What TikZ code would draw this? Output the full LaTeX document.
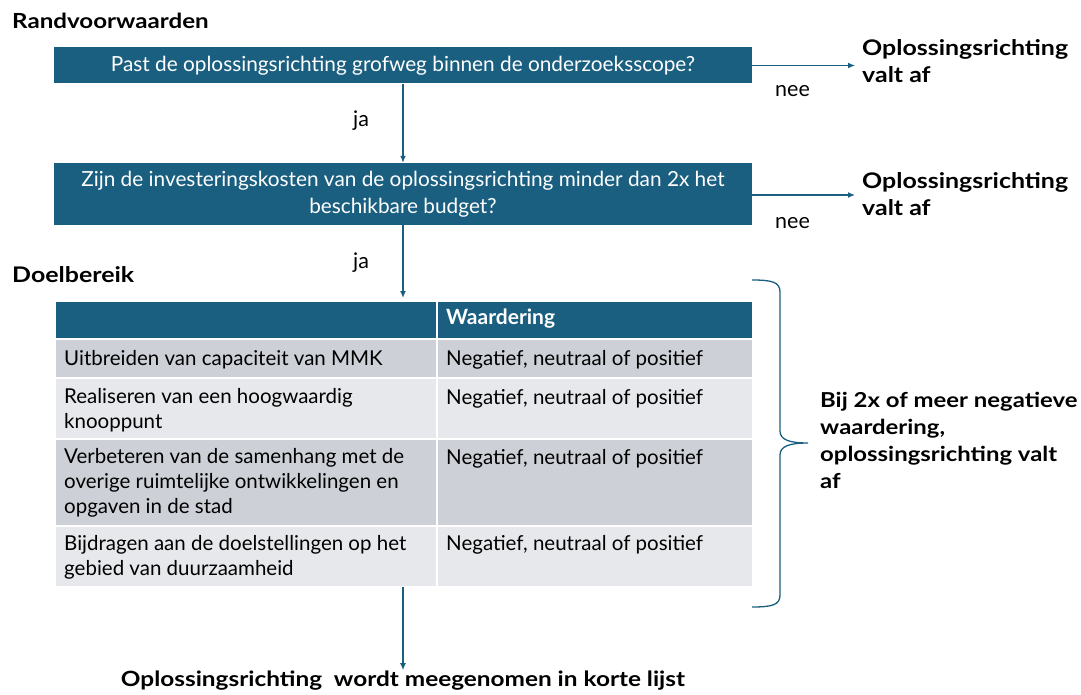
\documentclass[tikz,border=0pt]{standalone}
\usepackage{fontspec}
\setmainfont{Lato}
\newfontfamily\widebf{Lato Bold}[FakeStretch=1.16]
\newfontfamily\plainbf{Lato Bold}
\usetikzlibrary{arrows.meta}
\definecolor{dblue}{HTML}{1A5F80}
\definecolor{rowdark}{HTML}{CDD1D7}
\definecolor{rowlight}{HTML}{E6E8EB}
\begin{document}
\begin{tikzpicture}[x=1pt,y=-1pt,
  qbox/.style={fill=dblue, text=white, minimum width=698pt, inner sep=0pt,
    font=\fontsize{20.8}{27}\selectfont, align=center},
  flow/.style={draw=dblue, line width=1.3pt, -{Latex[length=7pt,width=6pt]}},
  head/.style={font=\widebf\fontsize{21.5}{27}\selectfont, anchor=base west, inner sep=0pt, align=left},
  small/.style={font=\fontsize{21.5}{25}\selectfont, anchor=base west, inner sep=0pt, align=left},
  cell/.style={draw=white, line width=1.5pt, anchor=north west, inner sep=0pt},
  celltext/.style={font=\fontsize{20.5}{25}\selectfont, anchor=base west, inner sep=0pt, align=left},
]
\useasboundingbox (0,0) rectangle (1081,695);

% headings
\node[head, font=\widebf\fontsize{20.8}{27}\selectfont] (rv) at (12,29) {Randvoorwaarden};
\node[head] (db) at (12,282) {Doelbereik};

% question boxes
\node[qbox, minimum height=36pt] (q1) at (403,65.5) {Past de oplossingsrichting grofweg binnen de onderzoeksscope?};
\node[qbox, minimum height=62pt] (q2) at (403,194) {Zijn de investeringskosten van de oplossingsrichting minder dan 2x het\\beschikbare budget?};

% outcomes (base anchor = last line)
\node[head] (o1) at (862,83) {Oplossingsrichting\\valt af};
\node[head] (o2) at (862,215) {Oplossingsrichting\\valt af};

\coordinate (o1in) at (855,65.5);
\coordinate (o2in) at (855,195);
\draw[flow] (q1.east) -- (o1in);
\draw[flow] (q2.east |- o2in) -- (o2in);
\node[small] (n1) at (775,97) {nee};
\node[small] (n2) at (775,229) {nee};

% table cells
\node[cell, fill=dblue, minimum width=382pt, minimum height=38pt] (h1) at (54,300) {};
\node[cell, fill=dblue, minimum width=316pt, minimum height=38pt] (h2) at (436,300) {};
\node[cell, fill=rowdark, minimum width=382pt, minimum height=39pt] (a1) at (54,338) {};
\node[cell, fill=rowdark, minimum width=316pt, minimum height=39pt] (b1) at (436,338) {};
\node[cell, fill=rowlight, minimum width=382pt, minimum height=61pt] (a2) at (54,377) {};
\node[cell, fill=rowlight, minimum width=316pt, minimum height=61pt] (b2) at (436,377) {};
\node[cell, fill=rowdark, minimum width=382pt, minimum height=87pt] (a3) at (54,438) {};
\node[cell, fill=rowdark, minimum width=316pt, minimum height=87pt] (b3) at (436,438) {};
\node[cell, fill=rowlight, minimum width=382pt, minimum height=61pt] (a4) at (54,525) {};
\node[cell, fill=rowlight, minimum width=316pt, minimum height=61pt] (b4) at (436,525) {};

\node[celltext, text=white, font=\plainbf\fontsize{21}{25}\selectfont] (th) at (446,324) {Waardering};
\node[celltext] (t1) at (64,365) {Uitbreiden van capaciteit van MMK};
\node[celltext] (t2) at (64,428) {Realiseren van een hoogwaardig\\knooppunt};
\node[celltext] (t3) at (64,513) {Verbeteren van de samenhang met de\\overige ruimtelijke ontwikkelingen en\\opgaven in de stad};
\node[celltext] (t4) at (64,575) {Bijdragen aan de doelstellingen op het\\gebied van duurzaamheid};
\node[celltext] (w1) at (446,365) {Negatief, neutraal of positief};
\node[celltext] (w2) at (446,404) {Negatief, neutraal of positief};
\node[celltext] (w3) at (446,464) {Negatief, neutraal of positief};
\node[celltext] (w4) at (446,550) {Negatief, neutraal of positief};

% vertical flow
\coordinate (tabtop) at (403,298);
\coordinate (tabbot) at (403,587);
\draw[flow] (q1.south) -- (q2.north);
\draw[flow] (q2.south) -- (tabtop);
\node[small] (j1) at (353,127) {ja};
\node[small] (j2) at (353,268) {ja};

% final
\node[head, anchor=base, font=\widebf\fontsize{21}{27}\selectfont] (fin) at (403,686) {Oplossingsrichting\; wordt meegenomen in korte lijst};
\draw[flow] (tabbot) -- (fin.north);

% brace
\coordinate (bt) at (752,280);
\coordinate (bb) at (752,607);
\coordinate (btip) at (808,443);
\draw[dblue, line width=1.3pt] (bt) .. controls (772,280) and (780,282) .. (780,292)
  -- (780,431) .. controls (780,440) and (790,443) .. (btip)
  .. controls (790,443) and (780,446) .. (780,455)
  -- (780,595) .. controls (780,605) and (772,607) .. (bb);
\node[head, font=\widebf\fontsize{20.6}{27}\selectfont] (bn) at (820,488) {Bij 2x of meer negatieve\\waardering,\\oplossingsrichting valt\\af};
\end{tikzpicture}
\end{document}
